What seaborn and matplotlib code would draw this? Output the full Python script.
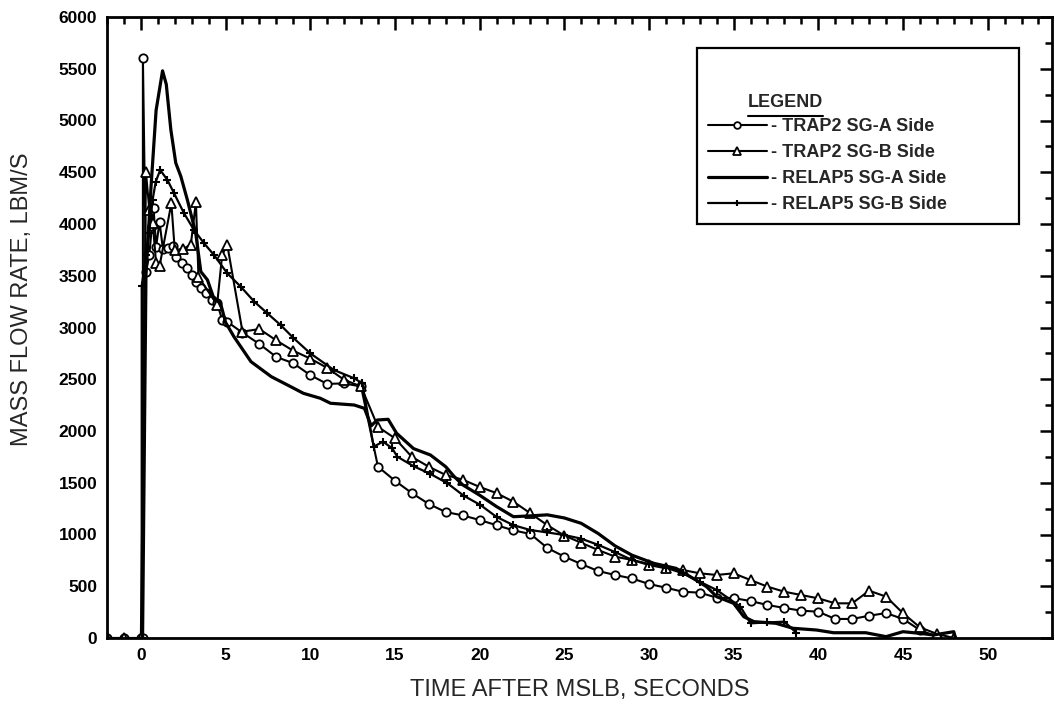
import matplotlib
matplotlib.use('Agg')
import matplotlib.pyplot as plt
from matplotlib.ticker import MultipleLocator
import seaborn as sns

sns.set_style('white')
plt.rcParams['font.family'] = ['Liberation Sans', 'DejaVu Sans']
plt.rcParams['font.weight'] = 'bold'

# =====================================================
# Data (time in s, flow in lbm/s)
# =====================================================

trap2_a_t = [-2, -1, 0, 0.12, 0.12, 0.3, 0.5, 0.65, 0.75, 0.9,
             1.1, 1.3, 1.6, 1.9, 2.1, 2.4, 2.7, 3.0, 3.25, 3.55,
             3.85, 4.2, 4.5, 4.8, 5.1, 6, 7, 8, 9, 10,
             11, 12, 13, 14, 15, 16, 17, 18, 19, 20,
             21, 22, 23, 24, 25, 26, 27, 28, 29, 30,
             31, 32, 33, 34, 35, 36, 37, 38, 39, 40,
             41, 42, 43, 44, 45, 46, 47]
trap2_a_v = [0, 0, 0, 0, 5600, 3540, 3700, 3980, 4150, 3780,
             4020, 3760, 3770, 3790, 3680, 3620, 3575, 3505, 3440, 3380,
             3330, 3265, 3235, 3075, 3055, 2950, 2840, 2715, 2655, 2540,
             2455, 2460, 2430, 1655, 1520, 1400, 1295, 1217, 1185, 1140,
             1090, 1040, 1005, 870, 786, 715, 647, 609, 575, 522,
             486, 447, 438, 390, 386, 357, 319, 290, 264, 254,
             184, 184, 215, 241, 184, 77, 13]

trap2_b_t = [-2, -1, 0, 0.3, 0.5, 0.7, 0.9, 1.1, 1.8, 2.0,
             2.5, 2.95, 3.25, 3.4, 4.5, 4.8, 5.1, 6, 7, 8,
             9, 10, 11, 12, 13, 14, 15, 16, 17, 18,
             19, 20, 21, 22, 23, 24, 25, 26, 27, 28,
             29, 30, 31, 32, 33, 34, 35, 36, 37, 38,
             39, 40, 41, 42, 43, 44, 45, 46, 47, 48]
trap2_b_v = [0, 0, 0, 4500, 4135, 4010, 3620, 3590, 4200, 3750,
             3760, 3800, 4215, 3490, 3220, 3700, 3800, 2960, 2985, 2875,
             2775, 2700, 2610, 2495, 2430, 2040, 1930, 1750, 1655, 1575,
             1530, 1460, 1400, 1317, 1205, 1090, 990, 920, 850, 786,
             754, 705, 673, 657, 625, 609, 625, 560, 496, 447,
             415, 383, 335, 335, 457, 400, 240, 103, 40, 0]

relap5_a_t = [0.1, 0.3, 0.6, 0.9, 1.28, 1.5, 1.77, 2.06, 2.36, 2.75,
              3.24, 3.54, 3.93, 4.3, 4.7, 5.0, 5.5, 6.5, 7.7, 8.85,
              9.6, 10.6, 11.2, 12.6, 13.2, 13.6, 13.95, 14.6, 15.1, 16.1,
              17.1, 18.0, 18.5, 19.0, 20.0, 21.0, 22.0, 23.0, 24.0, 25.0,
              26.0, 27.0, 28.0, 29.0, 30.3, 31.6, 32.6, 33.4, 34.0, 35.0,
              35.6, 36.2, 37.5, 38.5, 39.9, 40.9, 42.8, 44.0, 45.0, 46.0,
              46.8, 48.0, 48.1]
relap5_a_v = [0, 3500, 4360, 5100, 5480, 5350, 4910, 4590, 4460, 4230,
              3910, 3540, 3460, 3285, 3237, 3050, 2910, 2670, 2525, 2428,
              2364, 2316, 2268, 2251, 2219, 2050, 2106, 2113, 1978, 1830,
              1768, 1655, 1560, 1480, 1380, 1270, 1172, 1180, 1190, 1160,
              1108, 1010, 890, 800, 721, 673, 577, 496, 399, 335,
              206, 158, 142, 94, 77, 51, 51, 13, 61, 45,
              29, 61, 0]

relap5_b_t = [0.05, 0.05, 0.3, 0.49, 0.69, 0.88, 1.14, 1.57, 1.96, 2.55,
              3.14, 3.73, 4.32, 5.1, 5.9, 6.7, 7.47, 8.25, 9.0, 10.0,
              11.4, 12.6, 13.07, 13.75, 14.3, 14.84, 15.14, 16.1, 17.1, 18.1,
              19.06, 20.05, 21.0, 22.0, 23.0, 24.0, 25.0, 26.0, 27.0, 28.0,
              29.0, 30.0, 31.0, 32.0, 33.0, 34.0, 35.4, 36.0, 37.0, 38.0,
              38.7]
relap5_b_v = [0, 3400, 3700, 3910, 4232, 4409, 4522, 4425, 4297, 4103,
              3942, 3814, 3700, 3524, 3394, 3249, 3137, 3024, 2900, 2751,
              2589, 2509, 2461, 1849, 1897, 1833, 1752, 1660, 1585, 1495,
              1375, 1285, 1170, 1090, 1043, 1020, 995, 960, 900, 830,
              754, 715, 680, 625, 544, 464, 303, 142, 150, 158,
              51]

series_labels = ['- TRAP2 SG-A Side', '- TRAP2 SG-B Side',
                 '- RELAP5 SG-A Side', '- RELAP5 SG-B Side']

# =====================================================
# Plot
# =====================================================

fig = plt.figure(figsize=(10.55, 7.06), dpi=100)
ax = fig.add_axes([107 / 1055, 68 / 706, 945 / 1055, 621 / 706])

common = dict(ax=ax, sort=False, estimator=None, color='black')

sns.lineplot(x=trap2_a_t, y=trap2_a_v, lw=1.5, marker='o', markersize=6,
             markerfacecolor='white', markeredgecolor='black',
             markeredgewidth=1.3, label=series_labels[0], **common)
sns.lineplot(x=trap2_b_t, y=trap2_b_v, lw=1.5, marker='^', markersize=7,
             markerfacecolor='white', markeredgecolor='black',
             markeredgewidth=1.3, label=series_labels[1], **common)
sns.lineplot(x=relap5_a_t, y=relap5_a_v, lw=2.3, label=series_labels[2],
             **common)
sns.lineplot(x=relap5_b_t, y=relap5_b_v, lw=1.6, marker='+', markersize=6,
             markeredgecolor='black', markeredgewidth=1.5,
             label=series_labels[3], **common)

ax.set_xlim(-2, 53.8)
ax.set_ylim(0, 6000)
ax.xaxis.set_major_locator(MultipleLocator(5))
ax.xaxis.set_minor_locator(MultipleLocator(1))
ax.yaxis.set_major_locator(MultipleLocator(500))
ax.yaxis.set_minor_locator(MultipleLocator(250))

ax.tick_params(which='both', direction='in', top=True, right=True,
               width=1.8, colors='black', labelsize=12.5, pad=7)
ax.tick_params(which='major', length=9)
ax.tick_params(which='minor', length=5)
for side in ax.spines.values():
    side.set_linewidth(2)
    side.set_color('black')

ax.set_xlabel('TIME AFTER MSLB, SECONDS', fontsize=17, fontweight='normal',
              labelpad=12)
ax.set_ylabel('MASS FLOW RATE, LBM/S', fontsize=17, fontweight='normal')
ax.yaxis.set_label_coords(-0.078, 0.545)

# Legend box
handles, labels = ax.get_legend_handles_labels()
leg = ax.legend(handles, labels, loc='upper left',
                bbox_to_anchor=(0.624, 0.950, 0.341, 0), mode='expand',
                borderaxespad=0, prop={'weight': 'bold', 'size': 13},
                title=' ', title_fontsize=38, fancybox=False,
                framealpha=1, edgecolor='black', handlelength=3.3,
                handletextpad=0.2, labelspacing=0.5, borderpad=0.6,
                numpoints=1, markerscale=0.8)
leg.get_frame().set_linewidth(1.6)

title = ax.text(0.678, 0.862, 'LEGEND', transform=ax.transAxes,
                fontsize=13, fontweight='bold', va='center', ha='left',
                zorder=10)

fig.canvas.draw()
bb = title.get_window_extent().transformed(ax.transAxes.inverted())
ax.plot([bb.x0, bb.x1], [bb.y0 - 0.007, bb.y0 - 0.007],
        transform=ax.transAxes, color='black', lw=1.5, clip_on=False,
        zorder=10)

fig.savefig('out.png', dpi=100)
